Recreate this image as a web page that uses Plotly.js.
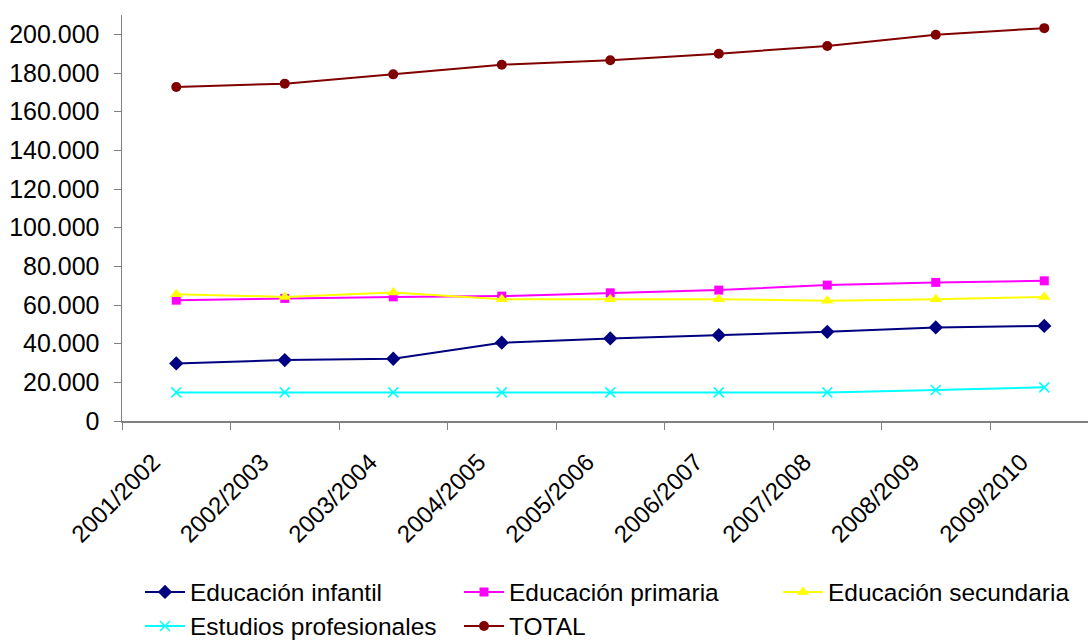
<!DOCTYPE html>
<html>
<head>
<meta charset="utf-8">
<script src="https://cdn.plot.ly/plotly-3.0.1.min.js"></script>
<style>html,body{margin:0;padding:0;background:#fff;}#chart{width:1088px;height:641px;}</style>
</head>
<body>
<div id="chart"></div>
<script>
const categories = ["2001/2002","2002/2003","2003/2004","2004/2005","2005/2006","2006/2007","2007/2008","2008/2009","2009/2010"];
const infantil = [29800, 31500, 32200, 40500, 42700, 44400, 46100, 48400, 49200];
const primaria = [62500, 63400, 64200, 64600, 66300, 67700, 70300, 71700, 72500];
const secundaria = [65600, 64200, 66500, 63000, 63000, 63000, 62200, 63000, 64200];
const profesionales = [14800, 14800, 14800, 14800, 14800, 14800, 14800, 16000, 17400];
const total = [172800, 174500, 179300, 184300, 186600, 190000, 194000, 199800, 203200];

const names = ["Educación infantil","Educación primaria","Educación secundaria","Estudios profesionales","TOTAL"];

function tr(name, y, color, symbol, size, legendId, extraMarker) {
  return {
    type: 'scatter', mode: 'lines+markers', name: name, legend: legendId,
    x: categories, y: y,
    line: {color: color, width: 2},
    marker: Object.assign({color: color, symbol: symbol, size: size, line: {width: 0, color: color}}, extraMarker || {})
  };
}

const data = [
  tr(names[0], infantil, '#000080', 'diamond', 11, 'legend'),
  tr(names[1], primaria, '#FF00FF', 'square', 9, 'legend'),
  tr(names[2], secundaria, '#FFFF00', 'triangle-up', 11, 'legend'),
  tr(names[3], profesionales, '#00FFFF', 'x-thin-open', 10, 'legend2', {line: {width: 1.5, color: '#00FFFF'}}),
  tr(names[4], total, '#800000', 'circle', 10, 'legend2')
];

const legendBase = {
  orientation: 'h', xref: 'container', yref: 'container',
  x: 140/1088, xanchor: 'left', yanchor: 'middle',
  font: {size: 24.5, family: 'Liberation Sans, Arial, sans-serif', color: '#000000'},
  entrywidth: 264, itemwidth: 40, tracegroupgap: 0,
  bgcolor: 'rgba(0,0,0,0)'
};

const layout = {
  width: 1088, height: 641,
  margin: {l: 122, r: 0, t: 15, b: 220, autoexpand: false},
  paper_bgcolor: '#ffffff', plot_bgcolor: '#ffffff',
  separators: ',.',
  font: {family: 'Liberation Sans, Arial, sans-serif', color: '#000000', size: 22},
  showlegend: true,
  legend: Object.assign({}, legendBase, {y: (641 - 592) / 641}),
  legend2: Object.assign({}, legendBase, {y: (641 - 626) / 641}),
  xaxis: {
    type: 'category', range: [-0.5, 8.403], autorange: false, automargin: false,
    showline: true, linecolor: '#808080', linewidth: 1.5,
    ticks: 'outside', ticklen: 7, tickcolor: '#808080', tickwidth: 1, tickson: 'boundaries',
    tickangle: -45, tickfont: {size: 24}, ticklabelstandoff: 16, ticklabelshift: -23,
    showgrid: false, zeroline: false, fixedrange: true
  },
  yaxis: {
    range: [0, 210000], autorange: false, automargin: false, tickmode: 'array',
    tickvals: [0,20000,40000,60000,80000,100000,120000,140000,160000,180000,200000],
    tickformat: ',d',
    showline: true, linecolor: '#808080', linewidth: 1.5,
    ticks: 'outside', ticklen: 7, tickcolor: '#808080', tickwidth: 1,
    ticklabelstandoff: 9,
    tickfont: {size: 25},
    showgrid: false, zeroline: false, fixedrange: true
  }
};

Plotly.newPlot('chart', data, layout, {displayModeBar: false, staticPlot: true});
</script>
</body>
</html>
